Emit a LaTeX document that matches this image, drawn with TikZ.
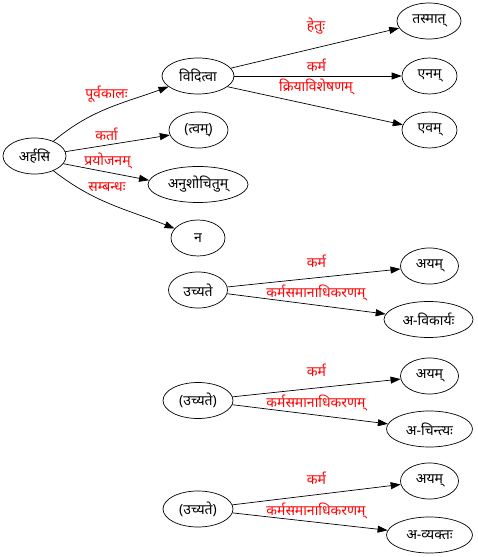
\documentclass[tikz,border=0pt]{standalone}
\usepackage{fontspec}
\setmainfont[Script=Devanagari]{Noto Sans}
\usetikzlibrary{shapes.geometric,arrows.meta}
\begin{document}
\begin{tikzpicture}[x=1pt,y=1pt,
  nd/.style={draw, ellipse, inner sep=0pt, minimum height=36pt, line width=0.7pt, font=\fontsize{14}{16}\selectfont},
  lb/.style={text=red, inner sep=0pt, font=\fontsize{14}{16}\selectfont},
  ar/.style={-{Triangle[length=10pt,width=7pt]}, line width=0.7pt}]
\useasboundingbox (0,0) rectangle (478,557);
% nodes
\node[nd, minimum width=63pt] (arhasi) at (34.5,401) {अर्हसि};
\node[nd, minimum width=72pt] (viditva) at (198,481) {विदित्वा};
\node[nd, minimum width=59pt] (tvam) at (198.5,427) {(त्वम्)};
\node[nd, minimum width=100pt] (anu) at (198,372.5) {अनुशोचितुम्};
\node[nd, minimum width=54pt] (na) at (198,319) {न};
\node[nd, minimum width=64pt] (tasmat) at (429,536) {तस्मात्};
\node[nd, minimum width=55pt] (enam) at (429.5,481) {एनम्};
\node[nd, minimum width=55pt] (evam) at (429.5,427) {एवम्};
\node[nd, minimum width=59pt] (uc1) at (198,267) {उच्यते};
\node[nd, minimum width=58pt] (ayam1) at (429.5,291) {अयम्};
\node[nd, minimum width=89pt] (avik) at (428.5,237.5) {अ-विकार्यः};
\node[nd, minimum width=70pt] (uc2) at (198,156.5) {(उच्यते)};
\node[nd, minimum width=58pt] (ayam2) at (429.5,181) {अयम्};
\node[nd, minimum width=86pt] (acin) at (429.5,128) {अ-चिन्त्यः};
\node[nd, minimum width=70pt] (uc3) at (198,48) {(उच्यते)};
\node[nd, minimum width=58pt] (ayam3) at (429.5,76) {अयम्};
\node[nd, minimum width=86pt] (avya) at (429.5,22) {अ-व्यक्तः};
% labels
\node[lb] (l1) at (106.5,463) {पूर्वकालः};
\node[lb, anchor=south] (l2) at (106.5,416) {कर्ता};
\node[lb] (l3) at (107.5,396.5) {प्रयोजनम्};
\node[lb] (l4) at (107,369.5) {सम्बन्धः};
\node[lb] (l5) at (316,531) {हेतुः};
\node[lb, anchor=base] (l6) at (316.5,485) {कर्म};
\node[lb, anchor=base] (l7) at (316,465) {क्रियाविशेषणम्};
\node[lb, anchor=base] (l8) at (316.5,289) {कर्म};
\node[lb, anchor=base] (l9) at (316,259) {कर्मसमानाधिकरणम्};
\node[lb, anchor=base] (l10) at (316.5,180) {कर्म};
\node[lb, anchor=base] (l11) at (316,149) {कर्मसमानाधिकरणम्};
\node[lb, anchor=base] (l12) at (316.5,72) {कर्म};
\node[lb, anchor=base] (l13) at (316,41) {कर्मसमानाधिकरणम्};
% edges
\draw[ar] (arhasi.38) to[out=40,in=200] (viditva);
\draw[ar] (arhasi.8) -- (tvam.190);
\draw[ar] (arhasi.-15) -- (anu.175);
\draw[ar] (arhasi.-38) to[out=-38,in=158] (na);
\draw[ar] (viditva) -- (tasmat);
\draw[ar] (viditva) -- (enam);
\draw[ar] (viditva.-20) -- (evam.169);
\draw[ar] (uc1) -- (ayam1);
\draw[ar] (uc1) -- (avik);
\draw[ar] (uc2) -- (ayam2);
\draw[ar] (uc2) -- (acin);
\draw[ar] (uc3) -- (ayam3);
\draw[ar] (uc3) -- (avya);
\end{tikzpicture}
\end{document}
